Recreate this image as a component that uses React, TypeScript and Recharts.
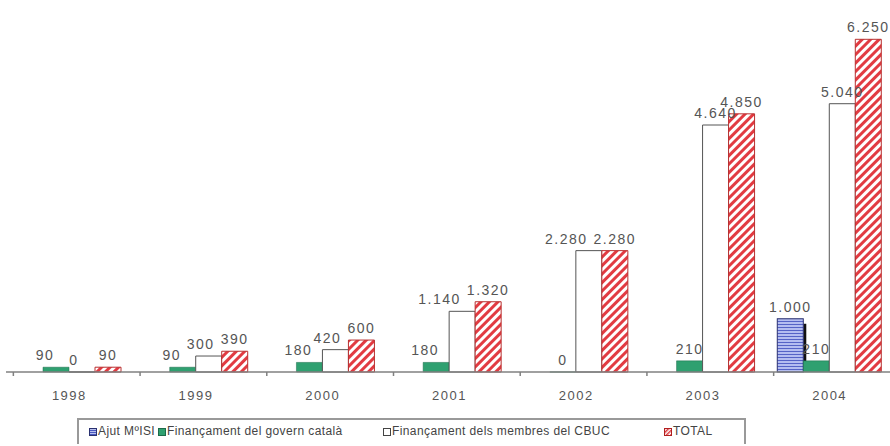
import React from "react";
import { BarChart, Bar, XAxis, YAxis, LabelList, Legend } from "recharts";

const years = ["1998", "1999", "2000", "2001", "2002", "2003", "2004"];
const ajutMiSI = [null, null, null, null, null, null, 1000];
const governCatala = [90, 90, 180, 180, 0, 210, 210];
const membresCBUC = [0, 300, 420, 1140, 2280, 4640, 5040];
const total = [90, 390, 600, 1320, 2280, 4850, 6250];

const seriesNames = [
  "Ajut MºISI",
  "Finançament del govern català",
  "Finançament dels membres del CBUC",
  "TOTAL",
];

const data = years.map((year, i) => ({
  year,
  ajut: ajutMiSI[i],
  govern: governCatala[i],
  membres: membresCBUC[i],
  total: total[i],
}));

const FONT = '"Liberation Sans", Arial, sans-serif';
const GREEN = "#2fa070";
const Y_MAX = 6500;
const PLOT_H = 346;

const fmt = (v: any) => {
  if (v === null || v === undefined) return "";
  return String(v).replace(/\B(?=(\d{3})+(?!\d))/g, ".");
};

// rough text width of a value label (14px + 1.5 letter spacing)
const labelWidth = (v: number) => {
  const s = fmt(v);
  let w = 0;
  for (const c of s) w += (c === "." ? 3.9 : 7.8) + 1.5;
  return w;
};

// Excel-like nudge: push a label left when the next series' label sits at almost the same height
const nudge = (key: string, i: number) => {
  const px = PLOT_H / Y_MAX;
  if (key === "govern") {
    const v = governCatala[i];
    if (v > 0 && (membresCBUC[i] - v) * px < 60) return -11;
    return 0;
  }
  if (key === "membres") {
    const v = membresCBUC[i];
    if ((total[i] - v) * px < 10.5) {
      const overlap = (labelWidth(v) + labelWidth(total[i])) / 2 - 26;
      return -Math.max(8, overlap + 6);
    }
  }
  return 0;
};

const makeLabel = (key: string) => (props: any) => {
  const { x, y, width, value, index } = props;
  if (value === null || value === undefined) return null;
  return (
    <text
      x={x + width / 2 + nudge(key, index)}
      y={y - 7}
      textAnchor="middle"
      fill="#555"
      fontSize={14}
      letterSpacing={1.5}
      fontFamily={FONT}
    >
      {fmt(value)}
    </text>
  );
};

const AjutShape = (props: any) => {
  const { x, y, width, height } = props;
  if (!height || height <= 0) return null;
  return (
    <g>
      <rect x={x + width} y={y + 5} width={3} height={height - 5} fill="#111" />
      <rect x={x} y={y} width={width} height={height} fill="url(#hstripes)" stroke="#2a3170" strokeWidth={1} />
    </g>
  );
};

const YearTick = (props: any) => {
  const { x, y, payload } = props;
  return (
    <g>
      <line x1={x - 56} x2={x - 56} y1={y - 8} y2={y - 4} stroke="#808080" strokeWidth={1.5} />
      <text x={x} y={y + 20} textAnchor="middle" fontSize={13} letterSpacing={1.5} fill="#555" fontFamily={FONT}>
        {payload.value}
      </text>
    </g>
  );
};

const Marker = ({ kind }: { kind: number }) => {
  const fills = ["url(#hstripesL)", GREEN, "#fff", "url(#hatchL)"];
  const strokes = ["#2a3170", "#1d6b4a", "#444", "#b02020"];
  return (
    <svg width={8} height={8} style={{ position: "absolute", top: 8, left: 0 }}>
      <defs>
        <pattern id="hstripesL" width={2} height={2} patternUnits="userSpaceOnUse">
          <rect width={2} height={2} fill="#b8c0ee" />
          <rect width={2} height={1} fill="#4a58c0" />
        </pattern>
        <pattern id="hatchL" width={3} height={3} patternUnits="userSpaceOnUse" patternTransform="rotate(45)">
          <rect width={3} height={3} fill="#fff" />
          <rect width={1.5} height={3} fill="#e03a3f" />
        </pattern>
      </defs>
      <rect x={0.5} y={0.5} width={7} height={7} fill={fills[kind]} stroke={strokes[kind]} strokeWidth={1} />
    </svg>
  );
};

const legendLefts = [10, 79, 304, 585];

const LegendBox = () => (
  <div
    style={{
      position: "relative",
      width: 669,
      height: 26,
      borderTop: "2px solid #999",
      borderLeft: "2px solid #999",
      borderRight: "2px solid #999",
      boxSizing: "border-box",
      fontFamily: FONT,
      fontSize: 12,
      letterSpacing: 0.4,
      color: "#444",
      background: "#fff",
    }}
  >
    {seriesNames.map((name, i) => (
      <div key={name} style={{ position: "absolute", left: legendLefts[i], top: 0, whiteSpace: "nowrap" }}>
        <Marker kind={i} />
        <span style={{ position: "absolute", left: 9, top: 4 }}>{name}</span>
      </div>
    ))}
  </div>
);

const zeroStub = (v: any) => (v === 0 ? 0.01 : 0);

export default function App() {
  return (
    <div style={{ position: "absolute", left: 0, top: 0, width: 890, height: 446, overflow: "hidden", background: "#fff" }}>
      <BarChart
        width={893}
        height={446}
        data={data}
        margin={{ top: 26, right: 0, left: 6, bottom: 18 }}
        barCategoryGap={11}
        barGap={0}
      >
        <defs>
          <pattern id="hstripes" width={3} height={3} patternUnits="userSpaceOnUse">
            <rect width={3} height={3} fill="#b4bdf0" />
            <rect width={3} height={1} fill="#5563c6" />
          </pattern>
          <pattern id="hatch" width={6} height={6} patternUnits="userSpaceOnUse" patternTransform="rotate(45)">
            <rect width={6} height={6} fill="#fff" />
            <rect width={3} height={6} fill="#e23b42" />
          </pattern>
        </defs>
        <XAxis
          dataKey="year"
          height={30}
          tickLine={false}
          axisLine={{ stroke: "#808080", strokeWidth: 1.5 }}
          tick={<YearTick />}
          interval={0}
        />
        <YAxis hide domain={[0, Y_MAX]} />
        <Legend
          content={<LegendBox />}
          verticalAlign="bottom"
          wrapperStyle={{ position: "absolute", left: 77, top: 418, width: 669, height: 26 }}
        />
        <Bar dataKey="ajut" name={seriesNames[0]} shape={<AjutShape />} isAnimationActive={false}>
          <LabelList dataKey="ajut" content={makeLabel("ajut")} />
        </Bar>
        <Bar dataKey="govern" name={seriesNames[1]} fill={GREEN} stroke="#1d6b4a" strokeWidth={0.5} minPointSize={zeroStub} isAnimationActive={false}>
          <LabelList dataKey="govern" content={makeLabel("govern")} />
        </Bar>
        <Bar dataKey="membres" name={seriesNames[2]} fill="#fff" stroke="#555" strokeWidth={1} minPointSize={zeroStub} isAnimationActive={false}>
          <LabelList dataKey="membres" content={makeLabel("membres")} />
        </Bar>
        <Bar dataKey="total" name={seriesNames[3]} fill="url(#hatch)" stroke="#b83030" strokeWidth={1} isAnimationActive={false}>
          <LabelList dataKey="total" content={makeLabel("total")} />
        </Bar>
      </BarChart>
    </div>
  );
}
